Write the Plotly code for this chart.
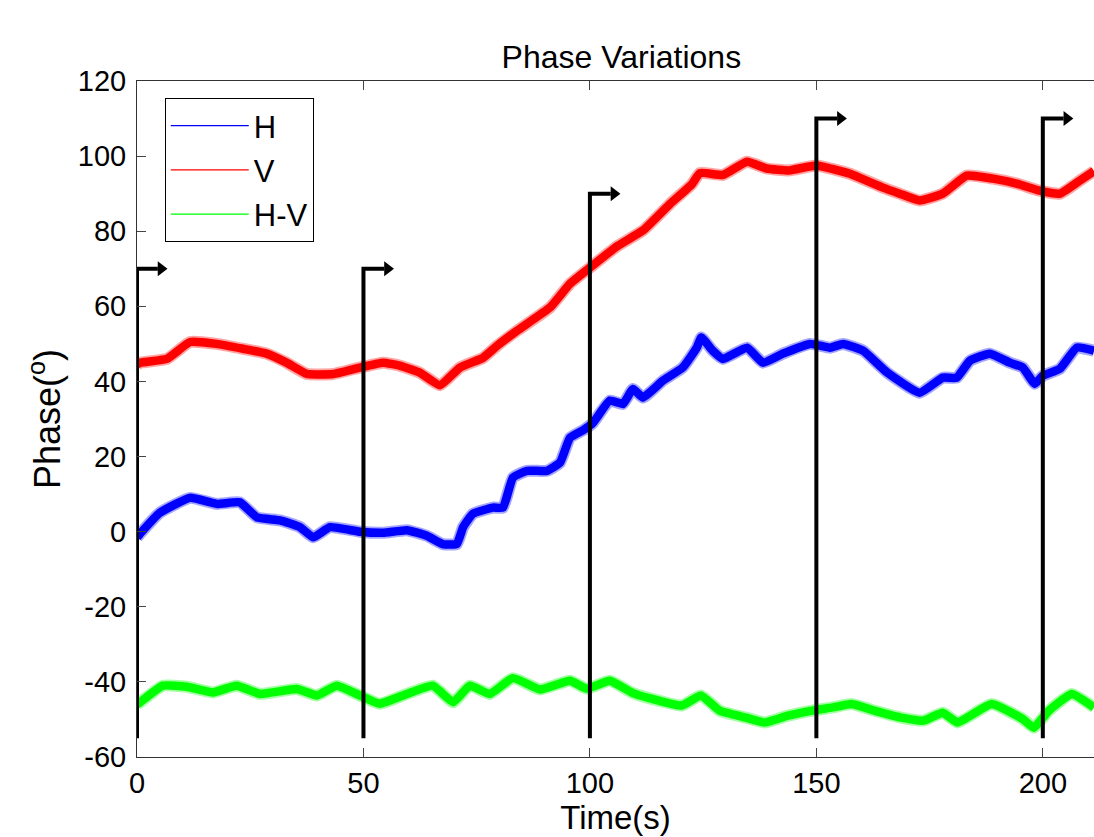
import plotly.graph_objects as go

# ---- data ----
h_time = [0, 0.7, 5, 11.7, 17.6, 22.7, 26.5, 31.6, 36, 38.9, 42.6, 49.2, 54.3, 59.6, 64,
          67.5, 70.6, 72, 74.2, 78.6, 80.8, 83, 86.1, 90.5, 93.4, 95.6, 98.5, 100.7, 104.4,
          107.3, 109.5, 111.7, 116.1, 120.5, 123.6, 124.6, 127.1, 129.4, 134.7, 138.2, 142.6,
          148.6, 153, 155.9, 160.3, 165.6, 172.8, 177.9, 181, 183.9, 188.3, 192.7, 195.6,
          198.2, 200, 203.8, 207.5, 211.3]
h_phase = [-1.5, -0.5, 5, 9, 7.4, 7.8, 3.8, 3, 1.2, -1.5, 1.2, 0, -0.3, 0.4, -1.1,
           -3.3, -3.3, 1.2, 4.8, 6.4, 6.4, 14.4, 16.2, 16.2, 18.4, 25, 27, 29, 34.9,
           34, 38, 35.7, 40.2, 43.7, 49, 51.7, 48.2, 46, 49, 45, 47.4,
           50, 49, 50, 48.2, 42.4, 37, 41, 41, 45.5, 47.4, 45, 43.7,
           39.4, 41.5, 43.4, 49, 48.2]

v_time = [0, 0.7, 6.6, 11.7, 17.6, 23.4, 28.6, 33, 37.5, 43.3, 49.2, 54.3, 58, 62.5, 66.9,
          71.3, 76.4, 79.5, 83.9, 91.2, 95.6, 100, 106, 111.7, 117.7, 122.5, 124.3, 129.4,
          134.7, 139, 144, 150, 157.4, 164.7, 168.4, 172.8, 177.9, 183.2, 189, 194.2, 199.3,
          203.8, 208.2, 211.3]
v_phase = [44.5, 45, 46, 50.5, 50, 48.7, 47.4, 45, 42, 42, 43.7, 45, 44.2, 42.3, 39,
           43.7, 46.3, 49.5, 53.5, 59.7, 66, 70.3, 76, 80.2, 87.3, 92.5, 95.5, 95,
           98.5, 96.7, 96.2, 97.5, 95.3, 91.6, 90, 88.2, 90, 94.8, 94, 92.7, 90.8,
           90, 93.5, 96]

hv_time = [0, 0.7, 5.7, 11, 16.8, 22, 27.2, 35.3, 39.7, 44.1, 49.2, 53.6, 59.6, 65.3, 69.8,
           73.5, 77.9, 83, 89, 95.6, 99.3, 104.4, 109.5, 115.2, 120.3, 124.5, 128.7, 134.4,
           138.6, 143.7, 148.8, 153.6, 157.8, 162.9, 168.7, 173.7, 177.9, 181.2, 188.7,
           195.6, 198, 201.3, 206.4, 211.3]
hv_phase = [-46, -45.4, -41, -41.3, -42.8, -41, -43.2, -41.9, -43.6, -41, -43.6, -45.8, -43.2,
            -41, -45.4, -41, -43.2, -39, -42, -39.7, -41.8, -39.7, -43, -45, -46.3, -43.6,
            -47.7, -49.5, -50.8, -49, -47.7, -46.8, -45.9, -47.7, -49.5, -50.3, -48.2, -50.8,
            -45.9, -49.9, -52.2, -47.7, -43.2, -46.8]

# steps: time of change, level of the new setting
step_time = [0, 50, 100, 150, 200]
step_level = [70, 70, 90, 110, 110]
step_base = -55
arrow_len = 4.6

y_ticks = [-60, -40, -20, 0, 20, 40, 60, 80, 100, 120]
y_tick_labels = ["-60", "-40", "-20", "0", "20", "40", "60", "80", "100", "120"]
x_ticks = [0, 50, 100, 150, 200]

series = [
    ("H", h_time, h_phase, "#0000ff"),
    ("V", v_time, v_phase, "#ff0000"),
    ("H-V", hv_time, hv_phase, "#00ff00"),
]

fig = go.Figure()

# thick bands (the noisy traces), with a soft halo for the fuzzy edge
for name, t, p, c in series:
    fig.add_trace(go.Scatter(x=t, y=p, mode="lines", line=dict(color=c, width=12, shape="spline", smoothing=0.4),
                             opacity=0.35, showlegend=False, hoverinfo="skip"))
    fig.add_trace(go.Scatter(x=t, y=p, mode="lines", line=dict(color=c, width=8.5, shape="spline", smoothing=0.4),
                             name=name, showlegend=False))

# legend entries with thin lines, like the original
for name, t, p, c in series:
    fig.add_trace(go.Scatter(x=[None], y=[None], mode="lines", line=dict(color=c, width=1.3),
                             name=name, legendgroup=name))

# step markers: vertical line then a short arrow to the right
for st, lv in zip(step_time, step_level):
    fig.add_trace(go.Scatter(x=[st, st, st + arrow_len], y=[step_base, lv, lv], mode="lines",
                             line=dict(color="black", width=4), showlegend=False, hoverinfo="skip"))
    fig.add_trace(go.Scatter(x=[st + arrow_len + 0.7], y=[lv], mode="markers",
                             marker=dict(symbol="triangle-right", size=13, color="black"),
                             showlegend=False, hoverinfo="skip"))

font = "Liberation Sans, Arial, sans-serif"
fig.update_layout(
    width=1094, height=837,
    margin=dict(l=137, r=0, t=81, b=80),
    paper_bgcolor="white", plot_bgcolor="white",
    font=dict(family=font, size=30, color="black"),
    title=dict(text="Phase Variations", x=0.568, xanchor="center", y=0.932, yanchor="middle",
               font=dict(size=32)),
    legend=dict(x=0.029, y=0.975, xanchor="left", yanchor="top", bordercolor="black", borderwidth=1,
                bgcolor="white", font=dict(size=31), itemwidth=78, tracegroupgap=1),
    showlegend=True,
)
fig.update_xaxes(range=[0, 211.3], tickvals=x_ticks, ticks="inside", ticklen=9,
                 tickcolor="#444", showline=True, linecolor="#333", linewidth=1, mirror="ticks",
                 showgrid=False, zeroline=False, title=dict(text="Time(s)", standoff=3, font=dict(size=33)),
                 tickfont=dict(size=29))
fig.update_yaxes(range=[-60, 120], tickvals=y_ticks, ticktext=y_tick_labels, ticks="inside",
                 ticklen=9, tickcolor="#444", ticklabelstandoff=4,
                 showline=True, linecolor="#333", linewidth=1, showgrid=False, zeroline=False,
                 title=dict(text="Phase(<sup>o</sup>)", standoff=6, font=dict(size=36)),
                 tickfont=dict(size=29))

fig.write_html("out.html", config={"displayModeBar": False},
               post_script="document.body.style.margin='0px';")
